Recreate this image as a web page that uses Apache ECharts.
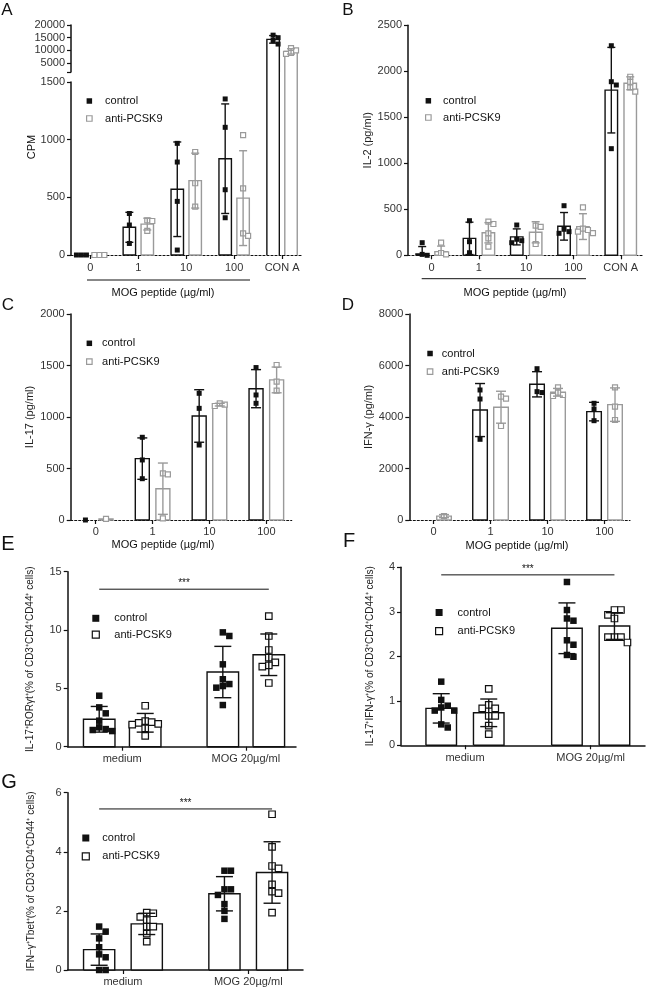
<!DOCTYPE html>
<html><head><meta charset="utf-8">
<script src="https://cdn.jsdelivr.net/npm/echarts@6/dist/echarts.min.js"></script>
<style>html,body{margin:0;padding:0;background:#fff}#c{width:646px;height:990px}</style>
</head><body><div id="c"></div>
<script>
// ---------------- DATA ----------------
const catsA = ['0', '1', '10', '100', 'CON A'];
const aCtrlMean = [0, 240, 570, 835, 14350];
const aCtrlSD = [0, 130, 410, 475, 1500];
const aCtrlPts = [[0, 0, 0], [360, 260, 100], [968, 806, 465, 43], [1353, 1107, 566, 323], [16000, 15000, 13900, 12500]];
const aAntiMean = [0, 268, 645, 493, 9600];
const aAntiSD = [0, 51, 238, 411, 1050];
const aAntiPts = [[0, 0, 0], [300, 295, 210], [893, 622, 419], [1040, 578, 188, 165], [10900, 10000, 9000, 8600]];
const aUpperTicks = [5000, 10000, 15000, 20000];

const catsB = ['0', '1', '10', '100', 'CON A'];
const bCtrlMean = [15, 184, 200, 315, 1795];
const bCtrlSD = [80, 176, 87, 150, 465];
const bCtrlPts = [[137, 10, 0], [376, 148, 28], [329, 174, 159, 137], [539, 283, 257, 239], [2278, 1887, 1851, 1159]];
const bAntiMean = [40, 245, 250, 312, 1870];
const bAntiSD = [60, 110, 115, 140, 70];
const bAntiPts = [[137, 25, 10], [365, 340, 239, 185, 94], [322, 308, 123], [522, 290, 275, 257, 240], [1941, 1886, 1826, 1778]];

const catsC = ['0', '1', '10', '100'];
const cCtrlMean = [0, 596, 1010, 1275];
const cCtrlSD = [0, 201, 255, 185];
const cCtrlPts = [[0], [803, 583, 401], [1230, 1084, 728], [1480, 1214, 1133]];
const cAntiMean = [10, 304, 1120, 1360];
const cAntiSD = [0, 249, 13, 125];
const cAntiPts = [[10], [453, 443, 16], [1107, 1133, 1120], [1505, 1343, 1256]];

const catsD = ['0', '1', '10', '100'];
const dCtrlMean = [null, 4270, 5270, 4210];
const dCtrlSD = [0, 1030, 490, 360];
const dCtrlPts = [[], [5049, 4699, 3134], [5876, 4985, 4950], [4532, 4311, 3857]];
const dAntiMean = [150, 4380, 4960, 4480];
const dAntiSD = [60, 620, 150, 650];
const dAntiPts = [[150], [4789, 4711, 3650], [5153, 4944, 4854, 4816], [5153, 4400, 3883]];

const catsStim = ['medium', 'MOG 20µg/ml'];
const eCtrlMean = [2.35, 6.4];
const eCtrlSD = [1.1, 2.2];
const eCtrlPts = [[4.37, 3.37, 2.86, 2.23, 1.66, 1.51, 1.43, 1.34], [9.8, 9.49, 7.06, 5.78, 5.37, 5.2, 5.06, 3.57]];
const eAntiMean = [2.05, 7.88];
const eAntiSD = [0.8, 1.78];
const eAntiPts = [[3.51, 2.2, 2.1, 2.05, 1.95, 1.9, 1.57, 0.92], [11.2, 9.49, 8.29, 7.63, 7.23, 6.97, 6.86, 5.46]];
const eSigY = 13.5;

const fCtrlMean = [0.83, 2.63];
const fCtrlSD = [0.33, 0.57];
const fCtrlPts = [[1.43, 1.02, 0.89, 0.85, 0.78, 0.78, 0.47, 0.40], [3.67, 3.04, 2.85, 2.80, 2.36, 2.26, 2.03, 1.99]];
const fAntiMean = [0.73, 2.68];
const fAntiSD = [0.31, 0.3];
const fAntiPts = [[1.27, 0.91, 0.83, 0.83, 0.66, 0.66, 0.44, 0.25], [3.04, 3.04, 2.93, 2.85, 2.43, 2.43, 2.43, 2.31]];
const fSigY = 3.83;

const gCtrlMean = [0.69, 2.58];
const gCtrlSD = [0.53, 0.58];
const gCtrlPts = [[1.47, 1.30, 1.07, 0.77, 0.53, 0.43, 0, 0], [3.36, 3.36, 2.73, 2.73, 2.54, 2.23, 2.0, 1.73]];
const gAntiMean = [1.56, 3.3];
const gAntiSD = [0.36, 1.04];
const gAntiPts = [[1.94, 1.92, 1.80, 1.69, 1.47, 1.47, 1.23, 0.96], [5.27, 4.17, 3.52, 3.44, 2.90, 2.65, 2.60, 1.94]];
const gSigY = 5.45;

// ---------------- STYLE / LAYOUT ----------------
const FONT = '"Liberation Sans", Arial, sans-serif';
const BLACK = '#111', GRAY = '#9a9a9a', LABEL = '#333';

const panels = [
  {grid: {left: 71, top: 82, width: 232, height: 173}, xr: [-0.405, 4.437], yr: [0, 1500], yInt: 500, cats: catsA,
   ctrl: [aCtrlMean, aCtrlSD, aCtrlPts], anti: [aAntiMean, aAntiSD, aAntiPts], barW: 0.26, off: 0.187, cap: 8, ps: 5,
   antiCol: GRAY, dash: true, breakAbove: 10, xMargin: 7},
  {grid: {left: 71, top: 25, width: 232, height: 47}, xr: [-0.405, 4.437], yr: [1500, 20000], cats: catsA,
   yLabels: aUpperTicks, yTicks: [1500].concat(aUpperTicks), only: [4], hideX: true,
   ctrl: [aCtrlMean, aCtrlSD, aCtrlPts], anti: [aAntiMean, aAntiSD, aAntiPts], barW: 0.26, off: 0.187, cap: 8, ps: 5,
   antiCol: GRAY, dash: true},
  {grid: {left: 408, top: 25.3, width: 235, height: 230}, xr: [-0.5, 4.47], yr: [0, 2500], yInt: 500, cats: catsB,
   ctrl: [bCtrlMean, bCtrlSD, bCtrlPts], anti: [bAntiMean, bAntiSD, bAntiPts], barW: 0.264, off: 0.2, cap: 8, ps: 5,
   antiCol: GRAY, dash: true, xMargin: 7, yName: 'IL-2 (pg/ml)', nameGap: 32, nameSize: 11},
  {grid: {left: 70.7, top: 314, width: 221, height: 206}, xr: [-0.44, 3.446], yr: [0, 2000], yInt: 500, cats: catsC,
   ctrl: [cCtrlMean, cCtrlSD, cCtrlPts], anti: [cAntiMean, cAntiSD, cAntiPts], barW: 0.246, off: 0.181, cap: 10, ps: 5,
   antiCol: GRAY, dash: true, xMargin: 6, yName: 'IL-17 (pg/ml)', nameGap: 35, nameSize: 11},
  {grid: {left: 409.3, top: 314, width: 220.7, height: 206}, xr: [-0.425, 3.447], yr: [0, 8000], yInt: 2000, cats: catsD,
   ctrl: [dCtrlMean, dCtrlSD, dCtrlPts], anti: [dAntiMean, dAntiSD, dAntiPts], barW: 0.256, off: 0.184, cap: 10, ps: 5,
   antiCol: GRAY, dash: true, xMargin: 6, yName: 'IFN-γ (pg/ml)', nameGap: 35, nameSize: 11},
  {grid: {left: 67.7, top: 571.7, width: 228.3, height: 175}, xr: [-0.441, 1.406], yr: [0, 15], yInt: 5, cats: catsStim,
   ctrl: [eCtrlMean, eCtrlSD, eCtrlPts], anti: [eAntiMean, eAntiSD, eAntiPts], barW: 0.255, off: 0.186, cap: 17, ps: 6.5,
   antiCol: BLACK, dash: false, xMargin: 7, sigY: eSigY,
   yName: 'IL-17⁺RORγt⁺(% of CD3⁺CD4⁺CD44⁺ cells)', nameGap: 32, nameSize: 10},
  {grid: {left: 401, top: 567.3, width: 244, height: 178}, xr: [-0.509, 1.432], yr: [0, 4], yInt: 1, cats: catsStim,
   ctrl: [fCtrlMean, fCtrlSD, fCtrlPts], anti: [fAntiMean, fAntiSD, fAntiPts], barW: 0.243, off: 0.189, cap: 17, ps: 6.5,
   antiCol: BLACK, dash: false, xMargin: 7, sigY: fSigY,
   yName: 'IL-17⁺IFN-γ⁺(% of CD3⁺CD4⁺CD44⁺ cells)', nameGap: 26, nameSize: 10},
  {grid: {left: 67.7, top: 792.7, width: 235.3, height: 177.3}, xr: [-0.441, 1.437], yr: [0, 6], yInt: 2, cats: catsStim,
   ctrl: [gCtrlMean, gCtrlSD, gCtrlPts], anti: [gAntiMean, gAntiSD, gAntiPts], barW: 0.249, off: 0.19, cap: 17, ps: 6.5,
   antiCol: BLACK, dash: false, xMargin: 6, sigY: gSigY,
   yName: 'IFN−γ⁺Tbet⁺(% of CD3⁺CD4⁺CD44⁺ cells)', nameGap: 31, nameSize: 10}
];

const legendsCfg = [
  {left: 86, c: 101, sp: 17.5, size: 5.5, pad: 8, anti: GRAY},
  {left: 425, c: 100.8, sp: 16.7, size: 5.5, pad: 7, anti: GRAY},
  {left: 86, c: 343.3, sp: 18.3, size: 5.5, pad: 5, anti: GRAY},
  {left: 426.7, c: 353.5, sp: 18.2, size: 5.5, pad: 4, anti: GRAY},
  {left: 91.7, c: 618.3, sp: 16.4, size: 7, pad: 10, anti: BLACK},
  {left: 435, c: 612.5, sp: 18.7, size: 7, pad: 10, anti: BLACK},
  {left: 81.7, c: 838, sp: 18.3, size: 7, pad: 8, anti: BLACK}
];

// beeswarm: returns slot index per point, given pixel y's
function swarm(ys, size) {
  const order = ys.map((y, i) => i).sort((a, b) => ys[a] - ys[b]);
  const placed = [], slots = new Array(ys.length);
  for (const i of order) {
    for (let k = 0; k < 50; k++) {
      const s = k === 0 ? 0 : (k % 2 ? (k + 1) / 2 : -k / 2);
      if (placed.every(p => p.s !== s || Math.abs(p.y - ys[i]) >= size * 0.95)) {
        slots[i] = s; placed.push({s, y: ys[i]}); break;
      }
    }
  }
  return slots;
}

function makeRender(P, g) {
  const grp = g ? P.anti : P.ctrl;
  const col = g ? P.antiCol : BLACK;
  const LW = 1.4;
  return function (params, api) {
    const cat = api.value(0);
    const mean = grp[0][cat], sd = grp[1][cat], pts = grp[2][cat] || [];
    const cs = params.coordSys;
    const top = cs.y, bot = cs.y + cs.height;
    const unit = api.size([1, 0])[0];
    const cx = api.coord([cat, P.yr[0]])[0] + (g ? 1 : -1) * P.off * unit;
    const hw = P.barW * unit / 2;
    const kids = [];
    // bar
    if (mean != null) {
      let yT = api.coord([cat, mean])[1], yB = api.coord([cat, 0])[1];
      let openTop = false, openBot = false;
      if (yT < top - 0.5) { yT = top - (P.breakAbove || 0); openTop = true; }
      if (yB > bot + 0.5) { yB = bot; openBot = true; }
      if (yB - yT > 0.8) {
        kids.push({type: 'rect', shape: {x: cx - hw, y: yT, width: 2 * hw, height: yB - yT}, style: {fill: '#fff'}});
        if (openTop) {
          kids.push({type: 'line', shape: {x1: cx - hw, y1: yB, x2: cx - hw, y2: yT}, style: {stroke: col, lineWidth: LW}});
          kids.push({type: 'line', shape: {x1: cx + hw, y1: yB, x2: cx + hw, y2: yT}, style: {stroke: col, lineWidth: LW}});
        } else {
          const pl = [[cx - hw, yB], [cx - hw, yT], [cx + hw, yT], [cx + hw, yB]];
          if (!openBot) pl.push([cx - hw, yB]);
          kids.push({type: 'polyline', shape: {points: pl}, style: {stroke: col, fill: null, lineWidth: LW}});
        }
      }
    }
    // points
    const inPts = pts.filter(v => v >= P.yr[0] - 1e-9 && v <= P.yr[1] + 1e-9);
    const ys = inPts.map(v => api.coord([cat, v])[1]);
    const slots = swarm(ys, P.ps);
    ys.forEach((py, k) => {
      const px = cx + slots[k] * P.ps;
      kids.push({type: 'rect', shape: {x: px - P.ps / 2, y: py - P.ps / 2, width: P.ps, height: P.ps},
        style: g ? {fill: '#fff', stroke: col, lineWidth: 1.2} : {fill: col}});
    });
    // error bar
    if (mean != null && sd > 0 && mean >= P.yr[0] && mean <= P.yr[1]) {
      const hi = mean + sd, lo = mean - sd;
      const yH = api.coord([cat, Math.min(hi, P.yr[1])])[1];
      const yL = api.coord([cat, Math.max(lo, P.yr[0])])[1];
      const c = P.cap / 2;
      kids.push({type: 'line', shape: {x1: cx, y1: yL, x2: cx, y2: yH}, style: {stroke: col, lineWidth: LW}});
      if (hi <= P.yr[1]) kids.push({type: 'line', shape: {x1: cx - c, y1: yH, x2: cx + c, y2: yH}, style: {stroke: col, lineWidth: LW}});
      if (lo >= P.yr[0]) kids.push({type: 'line', shape: {x1: cx - c, y1: yL, x2: cx + c, y2: yL}, style: {stroke: col, lineWidth: LW}});
    }
    return {type: 'group', children: kids};
  };
}

function makeSig(P) {
  return function (params, api) {
    const y = api.value(1);
    const unit = api.size([1, 0])[0];
    const x0 = api.coord([0, y])[0] - P.off * unit;
    const x1 = api.coord([P.cats.length - 1, y])[0] + P.off * unit;
    const py = api.coord([0, y])[1];
    return {type: 'group', children: [
      {type: 'line', shape: {x1: x0, y1: py, x2: x1, y2: py}, style: {stroke: BLACK, lineWidth: 1}},
      {type: 'text', x: (x0 + x1) / 2, y: py - 1, style: {text: '***', fontSize: 10, fontFamily: FONT, fill: BLACK, align: 'center', verticalAlign: 'bottom'}}
    ]};
  };
}

const series = [];
panels.forEach((p, i) => {
  [0, 1].forEach(g => {
    const grp = g ? p.anti : p.ctrl;
    const idx = p.only || p.cats.map((c, k) => k);
    series.push({
      type: 'custom', name: g ? 'anti-PCSK9' : 'control', coordinateSystem: 'cartesian2d',
      xAxisIndex: i, yAxisIndex: i, clip: false, z: 3,
      data: idx.map(k => [k, grp[0][k] == null ? 0 : grp[0][k]]),
      encode: {x: 0, y: 1}, renderItem: makeRender(p, g)
    });
  });
  if (p.sigY != null) {
    series.push({type: 'custom', name: 'sig', coordinateSystem: 'cartesian2d', xAxisIndex: i, yAxisIndex: i,
      clip: false, z: 3, data: [[0, p.sigY]], encode: {x: 0, y: 1}, renderItem: makeSig(p)});
  }
});

const txt = (text, x, y, size, extra) => Object.assign({type: 'text', x, y,
  style: {text, fontSize: size, fontFamily: FONT, fill: BLACK, align: 'center', verticalAlign: 'middle'}}, extra || {});

const graphic = [
  txt('A', 7, 10, 17), txt('B', 348, 10, 17), txt('C', 8, 305, 17), txt('D', 348, 305, 17),
  txt('E', 8, 544, 20), txt('F', 349, 541, 20), txt('G', 9, 782, 20),
  txt('CPM', 32, 147, 11, {rotation: Math.PI / 2}),
  {type: 'line', shape: {x1: 87, y1: 280, x2: 250, y2: 280}, style: {stroke: BLACK, lineWidth: 1}},
  txt('MOG peptide (µg/ml)', 163, 293, 11),
  {type: 'line', shape: {x1: 421.7, y1: 278.7, x2: 586, y2: 278.7}, style: {stroke: BLACK, lineWidth: 1}},
  txt('MOG peptide (µg/ml)', 515, 293, 11),
  txt('MOG peptide (µg/ml)', 163, 545, 11),
  txt('MOG peptide (µg/ml)', 517, 546, 11)
];

const option = {
  animation: false,
  textStyle: {fontFamily: FONT},
  grid: panels.map(p => Object.assign({}, p.grid, {containLabel: false, outerBoundsMode: 'none'})),
  xAxis: panels.map((p, i) => {
    const idx = p.cats.map((c, k) => k);
    return {
      gridIndex: i, type: 'value', min: p.xr[0], max: p.xr[1],
      axisLine: {show: !p.hideX, onZero: false, lineStyle: {color: BLACK, width: p.dash ? 1.2 : 1.5, type: p.dash ? [2, 2] : 'solid'}},
      axisTick: {show: !p.hideX, customValues: idx, length: 4, lineStyle: {color: BLACK, width: 1.2}},
      axisLabel: {show: !p.hideX, customValues: idx, formatter: v => p.cats[Math.round(v)] || '', color: LABEL, fontSize: 11, margin: p.xMargin || 6},
      splitLine: {show: false}
    };
  }),
  yAxis: panels.map((p, i) => {
    const ax = {
      gridIndex: i, type: 'value', min: p.yr[0], max: p.yr[1],
      axisLine: {show: true, onZero: false, lineStyle: {color: BLACK, width: 1.5}},
      axisTick: {show: true, length: 4, lineStyle: {color: BLACK, width: 1.2}},
      axisLabel: {color: LABEL, fontSize: 11, margin: 6, formatter: v => String(v)},
      splitLine: {show: false}
    };
    if (p.yInt) ax.interval = p.yInt;
    if (p.yLabels) { ax.axisLabel.customValues = p.yLabels; ax.axisTick.customValues = p.yTicks; }
    if (p.yName) Object.assign(ax, {name: p.yName, nameLocation: 'middle', nameGap: p.nameGap,
      nameTextStyle: {fontSize: p.nameSize, color: '#222'}});
    return ax;
  }),
  legend: legendsCfg.map(L => ({
    show: true, selectedMode: false, orient: 'vertical', left: L.left, top: L.c - 6, padding: 0,
    itemGap: L.sp - 12, itemWidth: L.size, itemHeight: L.size,
    textStyle: {fontSize: 11, color: BLACK, lineHeight: 12, padding: [0, 0, 0, L.pad]},
    data: [
      {name: 'control', icon: 'rect', itemStyle: {color: BLACK, borderWidth: 0}},
      {name: 'anti-PCSK9', icon: 'rect', itemStyle: {color: '#fff', borderColor: L.anti, borderWidth: 1.2}}
    ]
  })),
  series,
  graphic
};

const chart = echarts.init(document.getElementById('c'), null, {renderer: 'canvas'});
chart.setOption(option);
</script></body></html>
